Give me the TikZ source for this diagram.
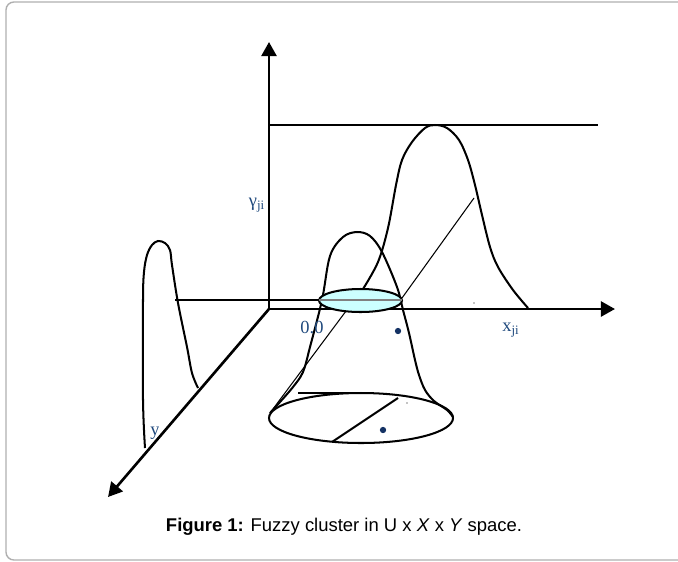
\documentclass[tikz,border=0pt]{standalone}
\usepackage{fontspec}
\setmainfont{Liberation Serif}
\newfontfamily\capfont{Liberation Sans}
\usetikzlibrary{arrows.meta, positioning}
\definecolor{mylabel}{RGB}{31,73,125}
\definecolor{mydot}{RGB}{20,50,100}
\definecolor{mycyan}{RGB}{204,255,255}
\definecolor{myframe}{RGB}{175,175,175}
\tikzset{
  axis/.style={-{Triangle[length=8pt,width=8.5pt]}, line width=1.5pt},
  curve/.style={line width=1.15pt},
  thinline/.style={line width=0.6pt},
  lbl/.style={font=\fontsize{10.5}{12}\selectfont, text=mylabel, inner sep=0pt},
  blob/.style={circle, fill=mydot, inner sep=0pt, minimum size=3.6pt}
}

\begin{document}
\begin{tikzpicture}[x=0.02cm, y=-0.02cm]
  \useasboundingbox (0,0) rectangle (678,561);
  % Frame
  \draw[myframe, line width=0.8pt, rounded corners=4.5pt] (700,2) -- (6,2) -- (6,560) -- (700,560);

  % Axes
  \coordinate (O) at (269,309);
  \coordinate (ytip) at (269,42);
  \coordinate (xtip) at (615,309);
  \coordinate (ztip) at (108,497);
  \draw[axis] (O) -- (ytip);
  \draw[axis] (O) -- (xtip);
  \draw[axis] (O) -- (ztip);

  % Max level line
  \coordinate (top1) at (269,125);
  \coordinate (top2) at (598,125);
  \draw[thinline] (top1) -- (top2);

  % Right bell
  \draw[curve] plot[smooth, tension=0.55] coordinates {(363,289) (378,262) (388,228) (396,185)
    (402,160) (412,142) (425,128) (435,125) (447,128) (459,140) (468,160) (475,185)
    (482,215) (490,247) (498,267) (513,290) (528,308)};

  % Left bell
  \draw[curve] plot[smooth, tension=0.55] coordinates {(145,448) (143,400) (143,300) (144,272)
    (147,255) (152,245) (158,241) (165,243) (170,250) (172,265) (178,303) (187,347)
    (192,373) (198,388)};

  % Projection lines
  \coordinate (p1) at (175,300);
  \coordinate (p2) at (402,300);
  \draw[thinline] (p1) -- (p2);
  \coordinate (d1) at (270,413);
  \coordinate (d2) at (352,303);
  \draw[thinline] (d1) -- (d2);
  \coordinate (d3) at (402,298);
  \coordinate (d4) at (474,198);
  \draw[thinline] (d3) -- (d4);

  % Middle bell
  \draw[curve] plot[smooth, tension=0.55] coordinates {(270,413) (280,402) (293,387) (303,372)
    (310,347) (322,300) (330,256) (343,237) (357,232) (370,236) (382,252) (397,287)
    (403,310) (409,333) (415,360) (419,375) (425,390) (434,401) (447,410) (453,417)};

  % Cuts
  \draw[curve] (361,418) ellipse (92 and 25);
  \coordinate (c1) at (298,393);
  \coordinate (c2) at (370,393);
  \draw[line width=0.9pt] (c1) -- (c2);
  \coordinate (c3) at (332,442);
  \coordinate (c4) at (398,398);
  \draw[curve] (c3) -- (c4);
  \fill (407,403) circle (0.4pt);
  \fill (474,303) circle (0.4pt);
  \draw[curve, fill=mycyan] (360.5,300.5) ellipse (41.5 and 11.5);
  \draw[thinline, gray] (319,300) -- (402,300);

  % Points
  \node[blob] (q1) at (398,331) {};
  \node[blob] (q2) at (383,430) {};

  % Labels
  \node[lbl] (gamma) at (257,205) {γ\textsubscript{ji}};
  \node[lbl] (orig) at (312,327) {0.0};
  \node[lbl] (xlab) at (511,330) {x\textsubscript{ji}};
  \begin{scope}
    \clip (150,425) rectangle (158,438);
    \node[lbl] (ylab) at (155,433) {y};
  \end{scope}

  % Caption
  \node[font=\capfont\fontsize{10.5}{12}\selectfont, inner sep=0pt] (cap) at (344,527)
    {\textbf{Figure 1:} Fuzzy cluster in U x \textit{X} x \textit{Y} space.};
\end{tikzpicture}
\end{document}
